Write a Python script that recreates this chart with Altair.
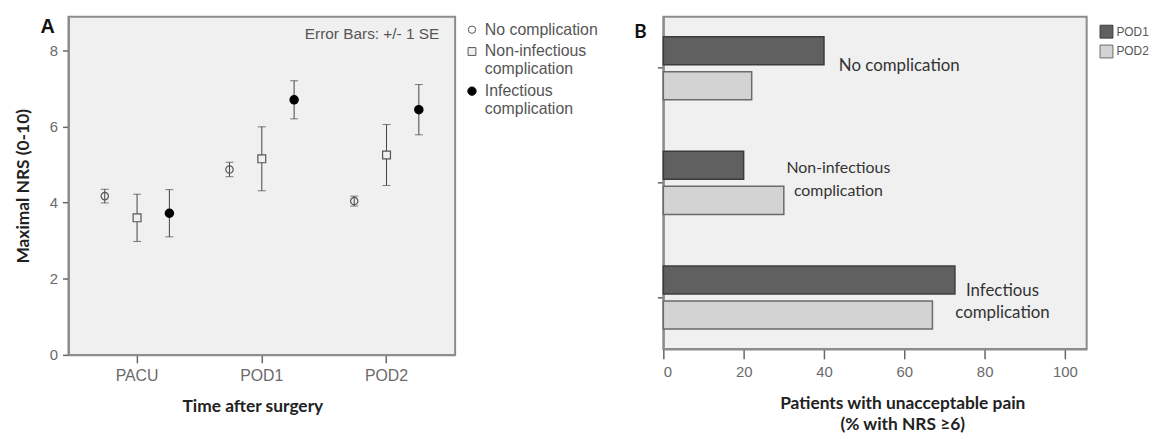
import altair as alt
import pandas as pd

# ---------------- Panel A data ----------------
times = ["PACU", "POD1", "POD2"]
groups = ["No complication", "Non-infectious complication", "Infectious complication"]
mean_no = [4.17, 4.87, 4.04]
se_no = [0.18, 0.19, 0.13]
mean_non = [3.60, 5.15, 5.25]
se_non = [0.62, 0.84, 0.80]
mean_inf = [3.72, 6.70, 6.44]
se_inf = [0.62, 0.50, 0.66]

# ---------------- Panel B data ----------------
categories = ["No complication", "Non-infectious complication", "Infectious complication"]
days = ["POD1", "POD2"]
pct_pod1 = [40, 20, 72.6]
pct_pod2 = [22, 30, 67]
cat_labels = ["No complication", "Non-infectious\ncomplication", "Infectious\ncomplication"]

rowsA = []
for g, m, s in zip(groups, [mean_no, mean_non, mean_inf], [se_no, se_non, se_inf]):
    for t, mv, sv in zip(times, m, s):
        rowsA.append({"time": t, "group": g, "mean": mv, "se": sv})
dfA = pd.DataFrame(rowsA)

rowsB = []
for c, a, b in zip(categories, pct_pod1, pct_pod2):
    rowsB.append({"category": c, "day": days[0], "pct": a})
    rowsB.append({"category": c, "day": days[1], "pct": b})
dfB = pd.DataFrame(rowsB)

dfL = pd.DataFrame({
    "category": categories,
    "label": cat_labels,
    "pct": [max(a, b) for a, b in zip(pct_pod1, pct_pod2)],
})

LABEL_FONT = "Liberation Sans"
TITLE_FONT = "Lato"
BAR_FONT = "Lato"

# ---------------- Panel A ----------------
yscaleA = alt.Scale(domain=[0, 8.88], nice=False, zero=True)
yaxisA = alt.Axis(title="Maximal NRS (0-10)", values=[0, 2, 4, 6, 8], tickSize=6,
                  labelPadding=5, titlePadding=17)
xA = alt.X("time:N", sort=times,
           scale=alt.Scale(paddingInner=0, paddingOuter=0.05),
           axis=alt.Axis(title="Time after surgery", labelAngle=0, tickSize=8, labelFontSize=16,
                         labelPadding=5, titlePadding=14, titleX=185.5))
xoA = alt.XOffset("group:N", sort=groups, scale=alt.Scale(paddingInner=0, paddingOuter=0.43))

baseA = alt.Chart(dfA).transform_calculate(
    lo="datum.mean - datum.se", hi="datum.mean + datum.se"
).encode(x=xA, xOffset=xoA)

rule = baseA.mark_rule(color="#444", strokeWidth=1).encode(
    y=alt.Y("lo:Q", scale=yscaleA, axis=yaxisA), y2="hi:Q")
cap_lo = baseA.mark_tick(color="#444", size=8, thickness=1).encode(
    y=alt.Y("lo:Q", scale=yscaleA, axis=yaxisA))
cap_hi = baseA.mark_tick(color="#444", size=8, thickness=1).encode(
    y=alt.Y("hi:Q", scale=yscaleA, axis=yaxisA))

legA = alt.Legend(title=None, orient="right", offset=4, padding=5,
                  labelFontSize=16, labelColor="#555", labelFont=LABEL_FONT,
                  labelExpr="datum.label == 'No complication' ? datum.label : split(datum.label, ' ')",
                  symbolStrokeWidth=1, rowPadding=6, labelOffset=5, labelLimit=300)

points = baseA.mark_point(opacity=1, strokeWidth=1.2).encode(
    y=alt.Y("mean:Q", scale=yscaleA, axis=yaxisA),
    shape=alt.Shape("group:N", sort=groups,
                    scale=alt.Scale(domain=groups, range=["circle", "square", "circle"]), legend=legA),
    fill=alt.Fill("group:N", sort=groups,
                  scale=alt.Scale(domain=groups, range=["transparent", "#f0f0f0", "#000000"]), legend=legA),
    stroke=alt.Stroke("group:N", sort=groups,
                      scale=alt.Scale(domain=groups, range=["#555555", "#555555", "#000000"]), legend=legA),
    size=alt.Size("group:N", sort=groups,
                  scale=alt.Scale(domain=groups, range=[55, 70, 100]), legend=legA),
)

noteA = alt.Chart(pd.DataFrame({"t": ["Error Bars: +/- 1 SE"]})).mark_text(
    align="right", baseline="middle", fontSize=15.5, color="#555", font=LABEL_FONT
).encode(x=alt.value(374), y=alt.value(17), text="t:N")

tagA = alt.Chart(pd.DataFrame({"t": ["A"]})).mark_text(
    align="center", baseline="middle", fontSize=20, fontWeight="bold", color="#111", font=LABEL_FONT
).encode(x=alt.value(-21), y=alt.value(10), text="t:N")

chartA = alt.layer(rule, cap_lo, cap_hi, points, noteA, tagA).properties(width=390, height=341)

# ---------------- Panel B ----------------
yB = alt.Y("category:N", sort=categories,
           scale=alt.Scale(paddingInner=0.45, paddingOuter=0.173),
           axis=alt.Axis(title=None, labels=False, tickSize=6))
xB = alt.X("pct:Q", scale=alt.Scale(domain=[0, 105.4], nice=False),
           axis=alt.Axis(title=["Patients with unacceptable pain", "(% with NRS \u22656)"],
                         values=[0, 20, 40, 60, 80, 100], tickSize=10, labelPadding=6,
                         titlePadding=15, titleLineHeight=21, titleX=241))

legB = alt.Legend(title=None, orient="right", offset=5, padding=8, labelFontSize=12,
                  labelColor="#555", labelFont=LABEL_FONT, symbolType="square",
                  symbolSize=169, symbolStrokeWidth=1, rowPadding=2, labelOffset=3)

bars = alt.Chart(dfB).mark_bar(strokeWidth=1.5).encode(
    y=yB,
    yOffset=alt.YOffset("day:N", sort=days, scale=alt.Scale(paddingInner=0.2, paddingOuter=0)),
    x=xB,
    fill=alt.Fill("day:N", sort=days, scale=alt.Scale(domain=days, range=["#606060", "#d3d3d3"]), legend=legB),
    stroke=alt.Stroke("day:N", sort=days, scale=alt.Scale(domain=days, range=["#3c3c3c", "#6a6a6a"]), legend=legB),
)

label_specs = [
    (categories[0], "left", 15, -2, 17),
    (categories[1], "center", 55, -15, 16),
    (categories[2], "center", 48, -7, 17),
]
label_layers = []
for cat, align, dx, dy, fs in label_specs:
    label_layers.append(
        alt.Chart(dfL).transform_filter(alt.datum.category == cat).mark_text(
            align=align, baseline="middle", dx=dx, dy=dy, fontSize=fs, font=BAR_FONT,
            color="#333", lineBreak="\n", lineHeight=23
        ).encode(y=yB, x=xB, text="label:N")
    )

tagB = alt.Chart(pd.DataFrame({"t": ["B"]})).mark_text(
    align="center", baseline="middle", fontSize=19, fontWeight="bold", color="#111", font=TITLE_FONT
).encode(x=alt.value(-23), y=alt.value(15), text="t:N")

chartB = alt.layer(bars, *label_layers, tagB).properties(width=427, height=335)

chart = alt.hconcat(chartA, chartB, spacing=29).resolve_scale(
    fill="independent", stroke="independent", shape="independent", size="independent"
).resolve_legend(
    fill="independent", stroke="independent", shape="independent", size="independent"
).properties(
    padding={"left": 5, "top": 6, "right": 5, "bottom": 5}
).configure_view(
    fill="#f0f0f0", stroke="#8c8c8c", strokeWidth=2
).configure_axis(
    grid=False, domainColor="#8c8c8c", domainWidth=2, tickColor="#666", tickWidth=1.5,
    labelFont=LABEL_FONT, labelFontSize=15, labelColor="#6a6a6a",
    titleFont=TITLE_FONT, titleFontSize=17.5, titleFontWeight="bold", titleColor="#222"
)

chart.save("out.html", embed_options={"renderer": "svg", "actions": False})
